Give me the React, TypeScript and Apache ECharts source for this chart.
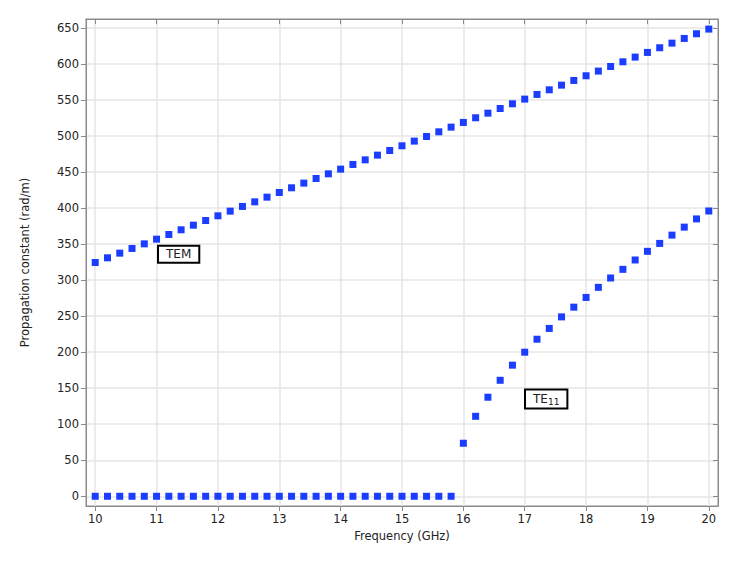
import React, { useEffect, useRef } from "react";
import * as echarts from "echarts";

const freqs: number[] = [
  10, 10.2, 10.4, 10.6, 10.8, 11, 11.2, 11.4, 11.6, 11.8,
  12, 12.2, 12.4, 12.6, 12.8, 13, 13.2, 13.4, 13.6, 13.8,
  14, 14.2, 14.4, 14.6, 14.8, 15, 15.2, 15.4, 15.6, 15.8,
  16, 16.2, 16.4, 16.6, 16.8, 17, 17.2, 17.4, 17.6, 17.8,
  18, 18.2, 18.4, 18.6, 18.8, 19, 19.2, 19.4, 19.6, 19.8, 20,
];

const temValues: number[] = [
  324.5, 331, 337.5, 344, 350.4, 356.9, 363.4, 369.9, 376.3, 382.8,
  389.3, 395.8, 402.3, 408.7, 415.2, 421.7, 428.2, 434.7, 441.1, 447.6,
  454.1, 460.6, 467, 473.5, 480, 486.5, 493, 499.4, 505.9, 512.4,
  518.9, 525.4, 531.8, 538.3, 544.8, 551.3, 557.8, 564.2, 570.7, 577.2,
  583.7, 590.2, 596.6, 603.1, 609.6, 616.1, 622.6, 629, 635.5, 642, 648.5,
];

const te11Values: number[] = [
  0, 0, 0, 0, 0, 0, 0, 0, 0, 0,
  0, 0, 0, 0, 0, 0, 0, 0, 0, 0,
  0, 0, 0, 0, 0, 0, 0, 0, 0, 0,
  73.6, 111, 137.5, 161, 182, 200, 218, 233, 249, 262.5,
  276, 290, 303, 315, 328, 340, 351, 362.5, 373.6, 385, 396,
];

const xTicks: number[] = [10, 11, 12, 13, 14, 15, 16, 17, 18, 19, 20];
const yTicks: number[] = [0, 50, 100, 150, 200, 250, 300, 350, 400, 450, 500, 550, 600, 650];

const temLabelPos: [number, number] = [11.36, 336];
const te11LabelPos: [number, number] = [17.35, 135];

const FONT = "DejaVu Sans";
const MARK = "#1a3dff";
const FRAME = "#8a8a8a";
const GRIDC = "#e6e6e6";

export default function App() {
  const ref = useRef<HTMLDivElement>(null);
  useEffect(() => {
    document.body.style.margin = "0";
    if (!ref.current) return;
    const chart = echarts.init(ref.current, undefined, { renderer: "svg" });
    const temData = freqs.map((f, i) => [f, temValues[i]]);
    const te11Data = freqs.map((f, i) => [f, te11Values[i]]);
    const xMin = 9.85, xMax = 20.15, yMin = -13.5, yMax = 662.5;
    const labelBox = {
      show: true,
      backgroundColor: "#ffffff",
      borderColor: "#000000",
      borderWidth: 2,
      color: "#222",
      fontFamily: FONT,
      fontSize: 12,
      position: "inside",
    };
    chart.setOption({
      animation: false,
      backgroundColor: "#ffffff",
      grid: {
        left: 86, right: 26, top: 19, bottom: 55,
        show: true, borderColor: FRAME, borderWidth: 1, backgroundColor: "transparent",
      },
      xAxis: [
        {
          type: "value", min: xMin, max: xMax, position: "bottom",
          name: "Frequency (GHz)", nameLocation: "middle", nameGap: 22,
          nameTextStyle: { fontFamily: FONT, fontSize: 11.5, color: "#222" },
          axisLine: { show: true, onZero: false, lineStyle: { color: FRAME, width: 1 } },
          axisTick: { show: true, inside: false, length: 5, customValues: xTicks, lineStyle: { color: FRAME } },
          axisLabel: { customValues: xTicks, fontFamily: FONT, fontSize: 11.5, color: "#222", margin: 7 },
          splitLine: { show: true, lineStyle: { color: GRIDC, width: 1.5 } },
        },
        {
          type: "value", min: xMin, max: xMax, position: "top",
          axisLine: { show: true, onZero: false, lineStyle: { color: FRAME, width: 1 } },
          axisTick: { show: true, inside: true, length: 5, customValues: xTicks, lineStyle: { color: FRAME } },
          axisLabel: { show: false, customValues: xTicks },
          splitLine: { show: false },
        },
      ],
      yAxis: [
        {
          type: "value", min: yMin, max: yMax, position: "left",
          name: "Propagation constant (rad/m)", nameLocation: "middle", nameGap: 55,
          nameTextStyle: { fontFamily: FONT, fontSize: 11.5, color: "#222" },
          axisLine: { show: true, onZero: false, lineStyle: { color: FRAME, width: 1 } },
          axisTick: { show: true, inside: false, length: 5, customValues: yTicks, lineStyle: { color: FRAME } },
          axisLabel: { customValues: yTicks, fontFamily: FONT, fontSize: 11.5, color: "#222", margin: 7 },
          splitLine: { show: true, lineStyle: { color: GRIDC, width: 1.5 } },
        },
        {
          type: "value", min: yMin, max: yMax, position: "right",
          axisLine: { show: true, onZero: false, lineStyle: { color: FRAME, width: 1 } },
          axisTick: { show: true, inside: true, length: 5, customValues: yTicks, lineStyle: { color: FRAME } },
          axisLabel: { show: false, customValues: yTicks },
          splitLine: { show: false },
        },
      ],
      series: [
        {
          name: "TEM", type: "scatter", xAxisIndex: 0, yAxisIndex: 0,
          symbol: "rect", symbolSize: 7, itemStyle: { color: MARK, opacity: 1 },
          data: temData,
          markPoint: {
            symbol: "rect", symbolSize: 1, itemStyle: { color: "rgba(0,0,0,0)" },
            label: { ...labelBox, formatter: "TEM", padding: [2, 7, 1, 7] },
            data: [{ coord: temLabelPos }],
          },
        },
        {
          name: "TE11", type: "scatter", xAxisIndex: 0, yAxisIndex: 0,
          symbol: "rect", symbolSize: 7, itemStyle: { color: MARK, opacity: 1 },
          data: te11Data,
          markPoint: {
            symbol: "rect", symbolSize: 1, itemStyle: { color: "rgba(0,0,0,0)" },
            label: {
              ...labelBox,
              formatter: "TE{sub|11}",
              padding: [1, 7, 1, 7],
              rich: { sub: { fontFamily: FONT, fontSize: 9, color: "#222", verticalAlign: "bottom", padding: [6, 0, 0, 0] } },
            },
            data: [{ coord: te11LabelPos }],
          },
        },
      ],
    });
    return () => chart.dispose();
  }, []);
  return <div ref={ref} style={{ width: 744, height: 561 }} />;
}
